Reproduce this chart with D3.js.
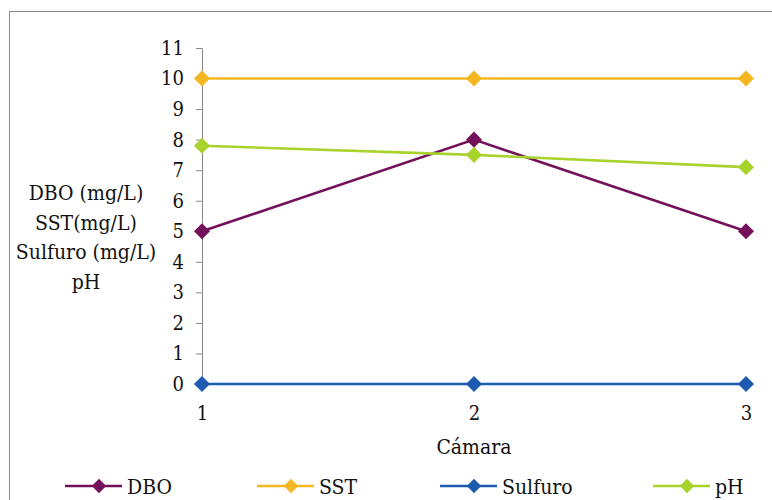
<!DOCTYPE html>
<html>
<head>
<meta charset="utf-8">
<script src="https://cdn.jsdelivr.net/npm/d3@7"></script>
<style>
  body { margin: 0; background: #fff; }
</style>
</head>
<body>
<div id="chart"></div>
<script>
// data
const camaras = [1, 2, 3];
const dbo = [5, 8, 5];
const sst = [10, 10, 10];
const sulfuro = [0, 0, 0];
const ph = [7.8, 7.5, 7.1];
const yTicks = d3.range(0, 12);
const yLabelLines = ["DBO (mg/L)", "SST(mg/L)", "Sulfuro (mg/L)", "pH"];

const series = [
  { name: "DBO", values: dbo, color: "#74105a", legendX: 65 },
  { name: "SST", values: sst, color: "#f4b721", legendX: 257 },
  { name: "Sulfuro", values: sulfuro, color: "#1d5bb0", legendX: 440 },
  { name: "pH", values: ph, color: "#a8d22c", legendX: 653 }
];

const FONT = "'DejaVu Serif Condensed', 'DejaVu Serif', serif";

const W = 772, H = 500;
const svg = d3.select("#chart").append("svg")
  .attr("width", W).attr("height", H)
  .style("font-family", FONT)
  .style("font-stretch", "condensed");

// outer frame (right and bottom edges fall outside the image)
svg.append("rect")
  .attr("x", 9.5).attr("y", 11.5)
  .attr("width", W + 10).attr("height", H + 10)
  .attr("fill", "none").attr("stroke", "#8a8a8a").attr("stroke-width", 1);

const x = d3.scalePoint().domain(camaras).range([202, 746]);
const y = d3.scaleLinear().domain([0, 11]).range([384, 48]);

function styleText(sel, size) {
  sel.style("font-family", FONT)
    .style("font-stretch", "condensed")
    .style("font-size", size + "px")
    .attr("fill", "#111");
}

// y axis
const yAxis = svg.append("g")
  .attr("transform", `translate(${x(1)},0)`)
  .call(d3.axisLeft(y).tickValues(yTicks).tickSize(6).tickPadding(12));
yAxis.select(".domain").attr("stroke", "#888");
yAxis.selectAll(".tick line").attr("stroke", "#888");
yAxis.selectAll(".tick text").call(styleText, 20);

// x axis
const xAxis = svg.append("g")
  .attr("transform", `translate(0,${y(0)})`)
  .call(d3.axisBottom(x).tickSize(0).tickPadding(22));
xAxis.select(".domain").attr("stroke", "#888");
xAxis.selectAll(".tick text").call(styleText, 20);

// axis titles
svg.append("text")
  .attr("x", x(2)).attr("y", 454)
  .attr("text-anchor", "middle")
  .call(styleText, 21)
  .text("Cámara");

svg.append("text")
  .attr("text-anchor", "middle")
  .call(styleText, 21)
  .selectAll("tspan")
  .data(yLabelLines)
  .join("tspan")
  .attr("x", 86)
  .attr("y", (d, i) => 200 + i * 29.5)
  .text(d => d);

// lines and markers
const diamond = d3.symbol().type(d3.symbolDiamond2);
const line = d3.line()
  .x((d, i) => x(camaras[i]))
  .y(d => y(d));

series.forEach(s => {
  svg.append("path")
    .datum(s.values)
    .attr("d", line)
    .attr("fill", "none")
    .attr("stroke", s.color)
    .attr("stroke-width", 2.6);

  svg.selectAll(null)
    .data(s.values)
    .join("path")
    .attr("transform", (d, i) => `translate(${x(camaras[i])},${y(d)})`)
    .attr("d", diamond.size(165))
    .attr("fill", s.color);
});

// legend
const legY = 486;
series.forEach(s => {
  const g = svg.append("g").attr("transform", `translate(${s.legendX},${legY})`);
  g.append("line")
    .attr("x1", 0).attr("x2", 57)
    .attr("stroke", s.color).attr("stroke-width", 2.6);
  g.append("path")
    .attr("transform", "translate(34,0)")
    .attr("d", diamond.size(130))
    .attr("fill", s.color);
  g.append("text")
    .attr("x", 62).attr("y", 7.5)
    .call(styleText, 21)
    .text(s.name);
});
</script>
</body>
</html>
